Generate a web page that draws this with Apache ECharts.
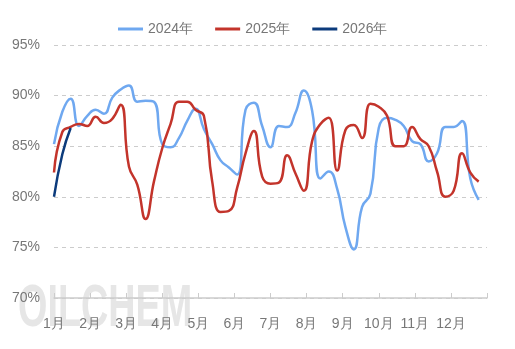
<!DOCTYPE html>
<html><head><meta charset="utf-8">
<script src="https://cdn.jsdelivr.net/npm/echarts@6/dist/echarts.min.js"></script>
<style>html,body{margin:0;padding:0;background:#fff}#c{width:515px;height:349px}</style>
</head><body><div id="c"></div>
<script>
const monthLabels = ['1月','2月','3月','4月','5月','6月','7月','8月','9月','10月','11月','12月'];
const seriesNames = ['2024年','2025年','2026年'];
const yTicks = [70, 75, 80, 85, 90, 95];
const weeksPerYear = 52;
const y2024 = [85.2,88.4,89.7,87.0,88.0,88.6,88.2,89.8,90.6,91.0,89.4,89.5,89.4,85.2,84.9,85.8,87.5,88.7,86.7,85.2,83.6,82.9,82.2,88.6,89.3,87.0,84.9,87.0,86.9,88.3,90.5,88.5,81.8,82.5,80.8,77.0,74.8,79.0,80.3,86.8,87.8,87.6,87.0,85.5,85.2,83.5,84.3,86.9,86.9,87.5,81.8,79.7];
const y2025 = [82.4,86.4,86.9,87.2,87.0,87.9,87.3,87.7,89.1,83.0,81.2,77.8,81.5,84.8,87.2,89.4,89.4,88.6,88.0,81.5,78.5,78.6,80.9,84.3,86.5,82.0,81.3,81.4,84.1,82.3,80.6,85.5,87.2,87.8,82.6,86.6,87.1,85.8,89.2,88.9,88.0,85.0,85.0,86.9,85.7,85.0,82.5,80.0,80.6,84.3,82.4,81.5];
const y2026 = [80.0,84.2,86.8];

function toPoints(arr){ return arr.map((v,i)=>[i*12/weeksPerYear, v]); }
const colors = ['#6fa8f0','#c3342b','#0c3b7c'];

const chart = echarts.init(document.getElementById('c'));
chart.setOption({
  animation:false,
  color: colors,
  graphic:{
    elements:[{
      type:'text', left:18, top:279, zlevel:0, z:0, scaleX:0.63,
      style:{text:'OILCHEM', font:'bold 60px "Liberation Sans"', fill:'#e6e6e6'}
    }]
  },
  legend:{
    zlevel:1,
    top:17, left:113, itemWidth:25, itemHeight:3, itemGap:22,
    icon:'rect',
    textStyle:{color:'#777', fontSize:14, fontFamily:'sans-serif'},
    data: seriesNames
  },
  grid:{left:54, right:28, top:45, bottom:51},
  xAxis:{
    type:'value', min:0, max:12, interval:1, zlevel:1,
    axisLine:{lineStyle:{color:'#cccccc', width:1.5}},
    axisTick:{show:true, inside:true, length:5, lineStyle:{color:'#cccccc'}},
    splitLine:{show:false},
    axisLabel:{color:'#777', fontSize:14, margin:19,
      formatter:v=> (v<12 ? monthLabels[v] : '')}
  },
  yAxis:{
    type:'value', min:yTicks[0], max:yTicks[yTicks.length-1], interval:5, zlevel:1,
    axisLine:{show:false}, axisTick:{show:false},
    splitLine:{lineStyle:{color:'#cccccc', type:[4,4]}},
    axisLabel:{color:'#777', fontSize:14, margin:14, formatter:v=>v+'%'}
  },
  series:[
    {name:seriesNames[0], type:'line', zlevel:1, data:toPoints(y2024), smooth:0.5, showSymbol:false, symbol:'none', lineStyle:{width:2.5}, z:2},
    {name:seriesNames[1], type:'line', zlevel:1, data:toPoints(y2025), smooth:0.5, showSymbol:false, symbol:'none', lineStyle:{width:2.5}, z:3},
    {name:seriesNames[2], type:'line', zlevel:1, data:toPoints(y2026), smooth:0.5, showSymbol:false, symbol:'none', lineStyle:{width:2.5}, z:4}
  ]
});
</script></body></html>
